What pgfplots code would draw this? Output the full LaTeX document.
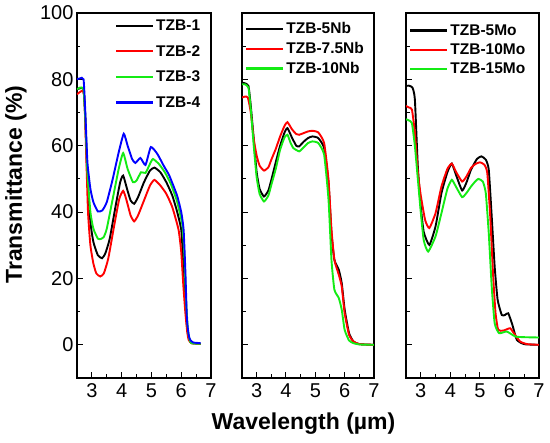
\documentclass[border=0pt]{standalone}
\usepackage{pgfplots}
\pgfplotsset{compat=1.18}
\usepackage{fontspec}
\setmainfont{Liberation Sans}
\definecolor{cg}{RGB}{20,235,20}
\definecolor{cr}{RGB}{255,0,0}
\definecolor{cb}{RGB}{0,0,255}
\pgfplotsset{
  panel/.style={
    width=134pt, height=365pt, scale only axis,
    xmin=2.5, xmax=7, ymin=-10, ymax=100,
    xtick={3,4,5,6,7}, ytick={0,20,40,60,80,100},
    minor x tick num=1, minor y tick num=1,
    tick pos=left, tick align=inside,
    major tick length=6pt, minor tick length=3.5pt,
    axis line style={line width=1.1pt},
    every tick/.style={line width=1.0pt, black},
    /pgf/number format/assume math mode=true,
    tick label style={font=\fontsize{20}{24}\selectfont},
    xticklabel style={yshift=-2pt},
    legend cell align=left,
    legend image code/.code={\draw[##1, line width=2.2pt] (0pt,0pt) -- (37pt,0pt);},
    every axis plot/.append style={line width=1.9pt, smooth, tension=0.3},
  },
}
\begin{document}
\begin{tikzpicture}
\useasboundingbox (0,0) rectangle (550pt,443pt);
% Panel 1
\begin{axis}[panel, at={(77pt,65pt)}, anchor=south west,
  ylabel={\bfseries Transmittance (\%)},
  ylabel style={font=\bfseries\fontsize{23}{27}\selectfont, at={(axis description cs:-0.455,0.53)}, anchor=center},
  legend style={draw=none, fill=none, at={(axis description cs:0.26,0.993)}, anchor=north west,
    font=\bfseries\fontsize{15.5}{18}\selectfont, row sep=9.3pt},
]
\addplot[black] coordinates {(2.5,77) (2.6,77.3) (2.72,77) (2.78,68) (2.85,50) (2.95,37) (3.05,31) (3.2,27) (3.34,26.1) (3.45,27.5) (3.6,32) (3.8,42) (3.95,49) (4.05,51) (4.18,47) (4.3,43.5) (4.42,42.5) (4.55,44.5) (4.75,49) (4.95,52.5) (5.1,53.4) (5.3,52) (5.5,49) (5.7,45) (5.86,40.2) (6.0,34.7) (6.07,25) (6.14,13) (6.2,5) (6.27,1.5) (6.35,0.5) (6.65,0.3)};
\addlegendentry{TZB-1}
\addplot[cr] coordinates {(2.5,75.5) (2.6,76.2) (2.7,76.5) (2.75,74) (2.8,60) (2.87,40) (2.95,30) (3.05,24.5) (3.15,21.5) (3.28,20.6) (3.4,21.5) (3.55,26) (3.75,36) (3.92,44) (4.05,46.4) (4.15,44) (4.3,39) (4.42,37.2) (4.55,39) (4.75,43.5) (4.95,48) (5.1,49.7) (5.3,48) (5.5,45.5) (5.7,41.5) (5.91,34.7) (6.0,28) (6.07,18) (6.14,9.6) (6.2,4) (6.25,1.5) (6.35,0.5) (6.65,0.3)};
\addlegendentry{TZB-2}
\addplot[cg] coordinates {(2.5,77) (2.6,77.5) (2.72,77) (2.78,68) (2.85,52) (2.95,40) (3.05,35) (3.2,32) (3.3,31.9) (3.4,32.5) (3.5,35) (3.7,44) (3.9,53) (4.05,57.8) (4.2,53) (4.38,49) (4.5,49.5) (4.65,52) (4.8,51.8) (4.95,54.5) (5.05,56) (5.25,54.5) (5.45,52) (5.65,48.5) (5.86,43.2) (6.04,36) (6.1,28) (6.16,14) (6.22,5) (6.28,1.5) (6.35,0.5) (6.65,0.3)};
\addlegendentry{TZB-3}
\addplot[cb] coordinates {(2.5,80) (2.6,80.3) (2.72,80) (2.78,70) (2.85,55) (2.95,47) (3.05,43) (3.2,40.2) (3.35,40.5) (3.5,43) (3.7,50) (3.9,58) (4.07,63.6) (4.2,60) (4.35,56) (4.46,54.8) (4.63,56.3) (4.8,54.2) (4.98,59.6) (5.2,57.5) (5.41,54) (5.6,51) (5.86,45) (6.0,40) (6.08,34.7) (6.14,22) (6.19,8) (6.25,3) (6.3,1.5) (6.4,0.7) (6.65,0.5)};
\addlegendentry{TZB-4}
\end{axis}
% Panel 2
\begin{axis}[panel, at={(242pt,65pt)}, anchor=south west, width=132pt, yticklabels={},
  xlabel={\bfseries Wavelength (µm)},
  xlabel style={font=\bfseries\fontsize{23}{27}\selectfont, at={(axis description cs:0.466,-0.126)}, anchor=center},
  legend style={draw=none, fill=none, at={(axis description cs:0.0,0.985)}, anchor=north west,
    font=\bfseries\fontsize{15.5}{18}\selectfont, row sep=3pt},
]
\addplot[black] coordinates {(2.5,79) (2.6,78.8) (2.72,78) (2.8,72) (2.9,62) (3.0,52) (3.1,47) (3.25,44.7) (3.4,46.5) (3.5,49.7) (3.65,55) (3.8,60) (3.95,64) (4.05,65.3) (4.2,62.5) (4.35,60) (4.45,59.8) (4.6,61.2) (4.75,62.3) (4.9,62.8) (5.1,62.3) (5.3,59.3) (5.45,48.7) (5.55,33.7) (5.65,25.6) (5.8,22.6) (5.9,18.6) (6.0,10.6) (6.15,3.5) (6.3,1) (6.5,0.2) (7,0)};
\addlegendentry{TZB-5Nb}
\addplot[cr] coordinates {(2.5,74.5) (2.6,74.8) (2.7,74.5) (2.8,70) (2.9,62) (3.0,57) (3.1,54) (3.25,52.5) (3.4,53.5) (3.5,55.8) (3.65,59) (3.8,62.8) (3.95,66) (4.05,67.1) (4.2,65) (4.35,63.5) (4.45,63.3) (4.6,63.8) (4.75,64.3) (4.9,64.5) (5.1,64) (5.3,60.8) (5.45,49.7) (5.55,34.7) (5.65,25.6) (5.8,21.1) (5.9,17.6) (6.0,9.5) (6.15,3) (6.3,1) (6.5,0.2) (7,0)};
\addlegendentry{TZB-7.5Nb}
\addplot[cg] coordinates {(2.5,78.5) (2.6,78.5) (2.72,77.5) (2.8,71) (2.9,60) (3.0,50.5) (3.1,45.5) (3.25,43.2) (3.4,45) (3.5,48.2) (3.65,53) (3.8,58.8) (3.95,62.5) (4.05,63.3) (4.15,61) (4.25,59.3) (4.45,58.3) (4.6,59.5) (4.75,60.8) (4.9,61.3) (5.1,60.8) (5.3,57.3) (5.45,43.7) (5.55,25.6) (5.65,16.6) (5.8,14.1) (5.9,10.6) (6.0,4.5) (6.15,1.3) (6.3,0.5) (6.5,0.1) (7,0)};
\addlegendentry{TZB-10Nb}
\end{axis}
% Panel 3
\begin{axis}[panel, at={(406pt,65pt)}, anchor=south west, width=133pt, yticklabels={},
  legend style={draw=none, fill=none, at={(axis description cs:0.0,0.98)}, anchor=north west,
    font=\bfseries\fontsize{15.5}{18}\selectfont, row sep=3pt},
]
\addplot[black] coordinates {(2.5,78) (2.6,78.1) (2.72,77.5) (2.8,74) (2.9,53.8) (3.0,41.7) (3.1,34) (3.29,30.1) (3.5,35.7) (3.7,45.7) (3.9,52) (4.05,54.6) (4.2,51) (4.4,46.5) (4.55,49) (4.7,52.8) (4.9,56) (5.05,56.8) (5.2,55.8) (5.3,52.8) (5.4,38.7) (5.5,23.6) (5.6,13.6) (5.74,9) (5.85,9) (5.96,9.5) (6.1,6) (6.25,1.5) (6.5,0.2) (7,0)};
\addlegendentry{TZB-5Mo}
\addplot[cr] coordinates {(2.5,72) (2.6,71.5) (2.7,70.9) (2.8,64) (2.9,52) (3.0,45) (3.15,37.5) (3.29,35.2) (3.5,39.7) (3.7,47.7) (3.9,53) (4.05,54.6) (4.2,52) (4.4,49.2) (4.55,50.8) (4.7,53.3) (4.85,54.5) (5.0,55) (5.15,54.3) (5.25,51.8) (5.35,38.7) (5.45,20.6) (5.53,9.5) (5.62,4.5) (5.8,4.3) (6.02,5) (6.15,3.5) (6.36,1) (6.6,0.2) (7,0)};
\addlegendentry{TZB-10Mo}
\addplot[cg] coordinates {(2.5,68) (2.6,67.6) (2.7,66.8) (2.8,60) (2.9,50) (3.0,40) (3.1,31.5) (3.25,28.1) (3.5,32.7) (3.7,39.7) (3.9,47) (4.05,49.7) (4.2,47.5) (4.4,44.5) (4.55,45.8) (4.7,47.7) (4.85,49.3) (4.95,50) (5.1,49.2) (5.2,45.7) (5.3,33.7) (5.4,17.6) (5.5,6.5) (5.65,3.5) (5.91,4) (6.2,2.5) (6.5,2.3) (7,2.2)};
\addlegendentry{TZB-15Mo}
\end{axis}
\end{tikzpicture}
\end{document}
